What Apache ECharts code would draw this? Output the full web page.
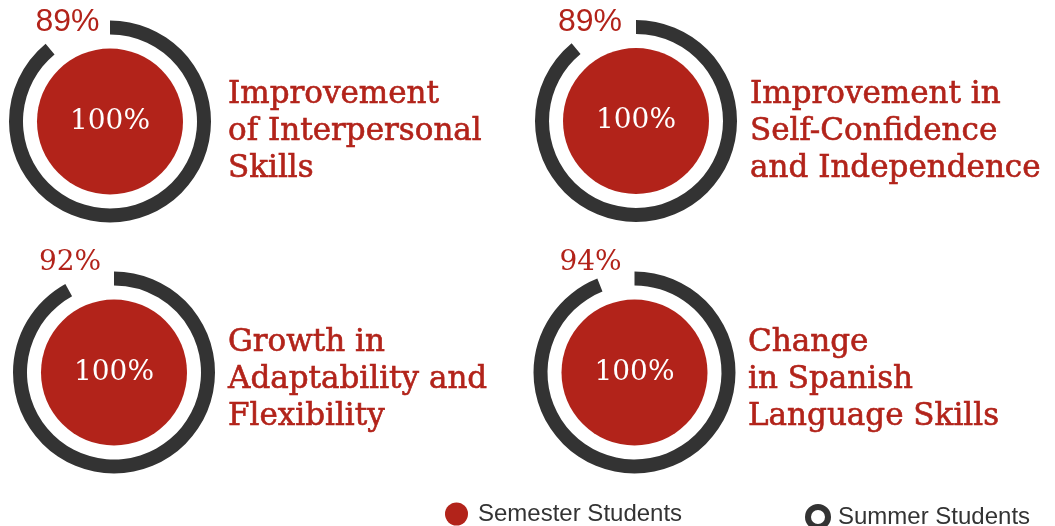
<!DOCTYPE html>
<html>
<head>
<meta charset="utf-8">
<script src="https://cdn.jsdelivr.net/npm/echarts@6/dist/echarts.min.js"></script>
<style>html,body{margin:0;padding:0;background:#fff}#c{width:1055px;height:526px}</style>
</head>
<body>
<div id="c"></div>
<script>
const categories = [
  'Improvement\nof Interpersonal\nSkills',
  'Improvement in\nSelf-Confidence\nand Independence',
  'Growth in\nAdaptability and\nFlexibility',
  'Change\nin Spanish\nLanguage Skills'
];
const semesterValues = [100, 100, 100, 100];
const summerValues = [89, 89, 92, 94];
const seriesNames = ['Semester Students', 'Summer Students'];

const RED = '#B2231A';
const DARK = '#333333';
const centers = [[110, 121.5], [636, 121], [114, 372.5], [634.5, 372.5]];
const textPos = [[228, 76], [750, 76], [228, 324], [748, 324]];
const pctPos = [[67.5, 22], [590, 22], [70, 263], [590.5, 263]];
const pctFont = ['Liberation Sans', 'Liberation Sans', 'DejaVu Serif', 'DejaVu Serif'];
const pctSize = [32, 32, 28, 28];

const series = [];
const titles = [];
const graphics = [];
categories.forEach((cat, i) => {
  series.push({
    type: 'pie', silent: true, center: centers[i], radius: [0, 73],
    startAngle: 90, animation: false,
    label: { show: true, position: 'center', formatter: '{c}%', color: '#fff',
      fontSize: 28, fontFamily: 'DejaVu Serif', fontWeight: 'normal' },
    labelLine: { show: false },
    itemStyle: { color: RED },
    data: [{ name: seriesNames[0], value: semesterValues[i] }]
  });
  series.push({
    type: 'pie', silent: true, center: centers[i], radius: [87, 101],
    startAngle: 90, clockwise: true, animation: false,
    label: { show: false }, labelLine: { show: false },
    data: [
      { name: seriesNames[1], value: summerValues[i], itemStyle: { color: DARK } },
      { name: 'gap', value: 100 - summerValues[i], itemStyle: { color: 'transparent' } }
    ]
  });
  titles.push({
    text: cat, left: textPos[i][0], top: textPos[i][1], padding: 0,
    textStyle: { color: RED, fontFamily: 'DejaVu Serif', fontWeight: 'normal', fontSize: 31, lineHeight: 37,
      textBorderColor: RED, textBorderWidth: 0.6 }
  });
  graphics.push({
    type: 'text', x: pctPos[i][0], y: pctPos[i][1], silent: true,
    style: { text: summerValues[i] + '%', fill: RED, font: `${pctSize[i]}px "${pctFont[i]}"`,
      textAlign: 'center', textVerticalAlign: 'middle' }
  });
});

const chart = echarts.init(document.getElementById('c'), null, { renderer: 'canvas' });
chart.setOption({
  backgroundColor: '#fff',
  animation: false,
  title: titles,
  graphic: graphics,
  legend: [
    {
      data: [{ name: seriesNames[0], icon: 'circle', itemStyle: { color: RED } }],
      left: 445, top: 502, itemWidth: 23, itemHeight: 23, selectedMode: false, padding: 0,
      textStyle: { fontSize: 24, color: '#333', fontFamily: 'Liberation Sans', padding: [0, 0, 0, 5] }
    },
    {
      data: [{ name: seriesNames[1], icon: 'circle', itemStyle: { color: '#fff', borderColor: DARK, borderWidth: 6 } }],
      left: 805, top: 504, itemWidth: 20, itemHeight: 20, selectedMode: false, padding: 0,
      textStyle: { fontSize: 24, color: '#333', fontFamily: 'Liberation Sans', padding: [0, 0, 0, 5] }
    }
  ],
  series: series
});
</script>
</body>
</html>
